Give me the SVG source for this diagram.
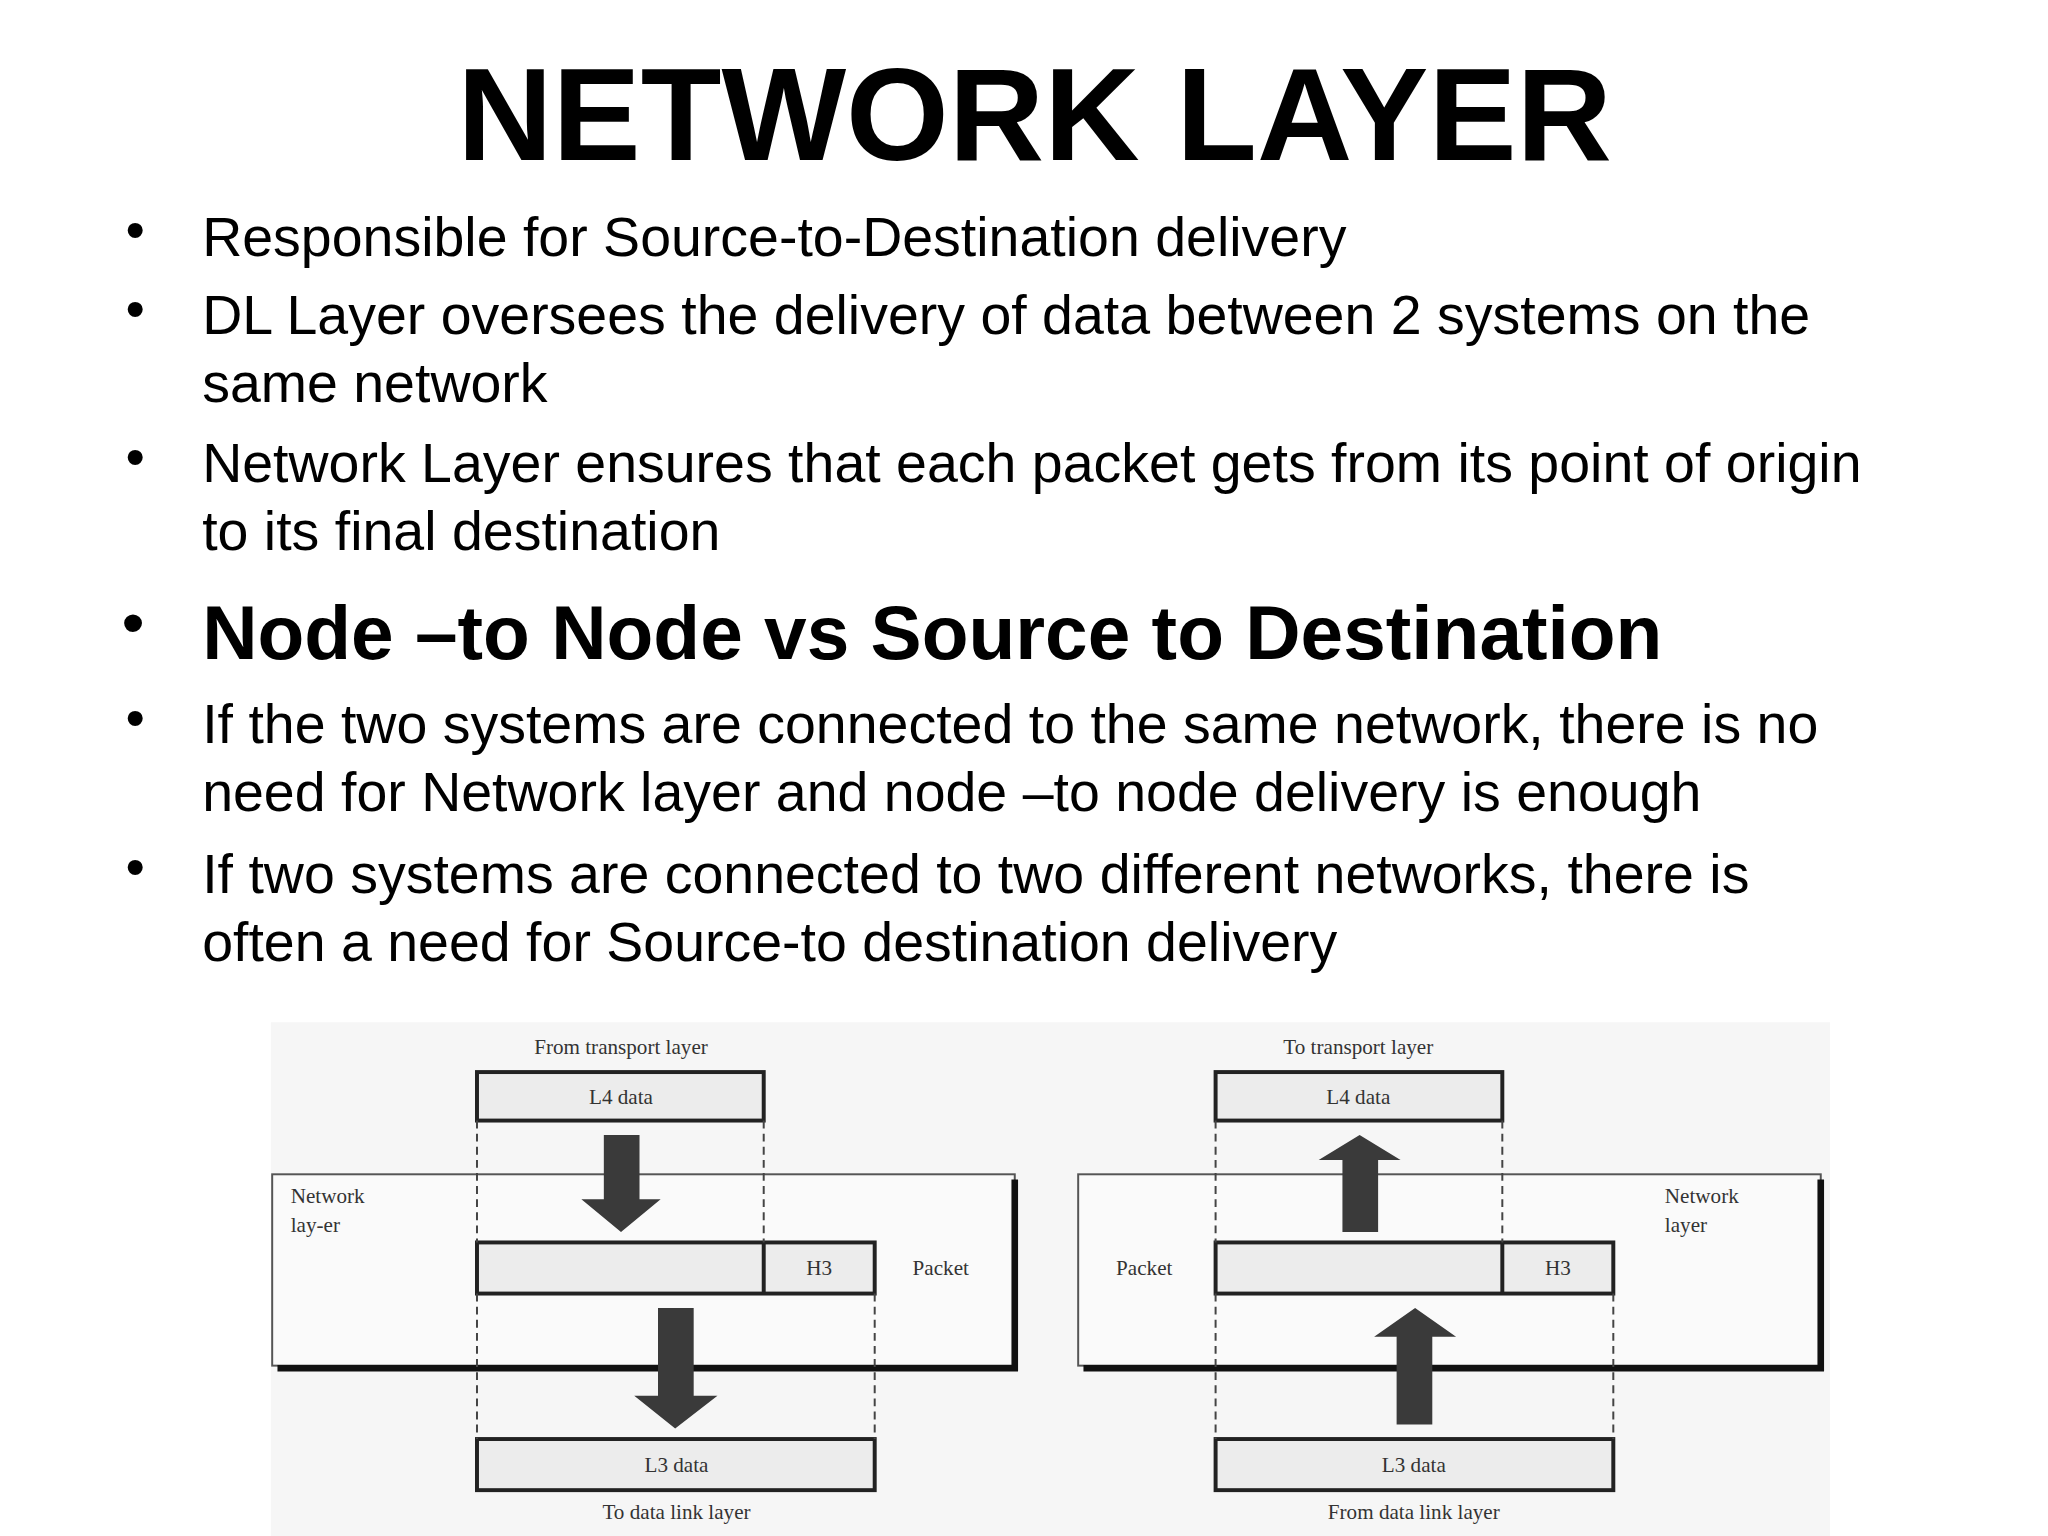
<svg xmlns="http://www.w3.org/2000/svg" width="2048" height="1536" viewBox="0 0 2048 1536">
<style>
.b{font-family:"Liberation Sans",Arial,sans-serif;font-size:42px;fill:#000}
.d{font-family:"Liberation Serif","Times New Roman",serif;font-size:16px;fill:#333}
.box{fill:#ececec;stroke:#222;stroke-width:3}
.net{fill:#fafafa;stroke:#555;stroke-width:1.5}
.dash{stroke:#444;stroke-width:1.5;stroke-dasharray:6,4;fill:none}
.arr{fill:#3a3a3a}
</style>
<rect width="2048" height="1536" fill="#fff"/>
<g transform="scale(1.3213,1.3106)">
<g id="title"><text x="783" y="122" text-anchor="middle" style="font-family:'Liberation Sans',Arial,sans-serif;font-weight:bold;font-size:100px">NETWORK LAYER</text></g>
<g id="bullets" class="b">
<text x="95" y="190">•</text><text x="153" y="195">Responsible for Source-to-Destination delivery</text>
<text x="95" y="250">•</text><text x="153" y="255">DL Layer oversees the delivery of data between 2 systems on the</text>
<text x="153" y="307">same network</text>
<text x="95" y="363">•</text><text x="153" y="368">Network Layer ensures that each packet gets from its point of origin</text>
<text x="153" y="420">to its final destination</text>
<text x="92" y="492" style="font-size:50px">•</text><text x="153" y="503" style="font-weight:bold;font-size:58px">Node –to Node vs Source to Destination</text>
<text x="95" y="562">•</text><text x="153" y="567">If the two systems are connected to the same network, there is no</text>
<text x="153" y="619">need for Network layer and node –to node delivery is enough</text>
<text x="95" y="676">•</text><text x="153" y="681">If two systems are connected to two different networks, there is</text>
<text x="153" y="733">often a need for Source-to destination delivery</text>
</g>
<rect x="205" y="780" width="1180" height="392" fill="#f6f6f6"/>
<g id="left">
<rect x="206" y="896" width="562" height="146" class="net"/>
<path d="M768 900 V1044 H210" stroke="#111" stroke-width="5" fill="none"/>
<text class="d" x="220" y="918">Network</text><text class="d" x="220" y="940">lay-er</text>
<rect x="361" y="818" width="217" height="37" class="box"/><text class="d" x="470" y="842" text-anchor="middle">L4 data</text>
<text class="d" x="470" y="804" text-anchor="middle">From transport layer</text>
<rect x="361" y="948" width="301" height="39" class="box"/><line x1="578" y1="948" x2="578" y2="987" stroke="#222" stroke-width="3"/>
<text class="d" x="620" y="973" text-anchor="middle">H3</text><text class="d" x="712" y="973" text-anchor="middle">Packet</text>
<rect x="361" y="1098" width="301" height="39" class="box"/><text class="d" x="512" y="1123" text-anchor="middle">L3 data</text>
<text class="d" x="512" y="1159" text-anchor="middle">To data link layer</text>
<path class="dash" d="M361 855 V948 M578 855 V948 M361 987 V1098 M662 987 V1098"/>
<path class="arr" d="M457 866 H484 V915 H500 L470 940 L440 915 H457 Z"/>
<path class="arr" d="M498 998 H525 V1065 H543 L511 1090 L480 1065 H498 Z"/>
</g>
<g id="right">
<rect x="816" y="896" width="562" height="146" class="net"/>
<path d="M1378 900 V1044 H820" stroke="#111" stroke-width="5" fill="none"/>
<text class="d" x="1260" y="918">Network</text><text class="d" x="1260" y="940">layer</text>
<rect x="920" y="818" width="217" height="37" class="box"/><text class="d" x="1028" y="842" text-anchor="middle">L4 data</text>
<text class="d" x="1028" y="804" text-anchor="middle">To transport layer</text>
<rect x="920" y="948" width="301" height="39" class="box"/><line x1="1137" y1="948" x2="1137" y2="987" stroke="#222" stroke-width="3"/>
<text class="d" x="1179" y="973" text-anchor="middle">H3</text><text class="d" x="866" y="973" text-anchor="middle">Packet</text>
<rect x="920" y="1098" width="301" height="39" class="box"/><text class="d" x="1070" y="1123" text-anchor="middle">L3 data</text>
<text class="d" x="1070" y="1159" text-anchor="middle">From data link layer</text>
<path class="dash" d="M920 855 V948 M1137 855 V948 M920 987 V1098 M1221 987 V1098"/>
<path class="arr" d="M1016 940 H1043 V885 H1060 L1029 866 L998 885 H1016 Z"/>
<path class="arr" d="M1057 1087 H1084 V1020 H1102 L1071 998 L1040 1020 H1057 Z"/>
</g>
</g>
</svg>
